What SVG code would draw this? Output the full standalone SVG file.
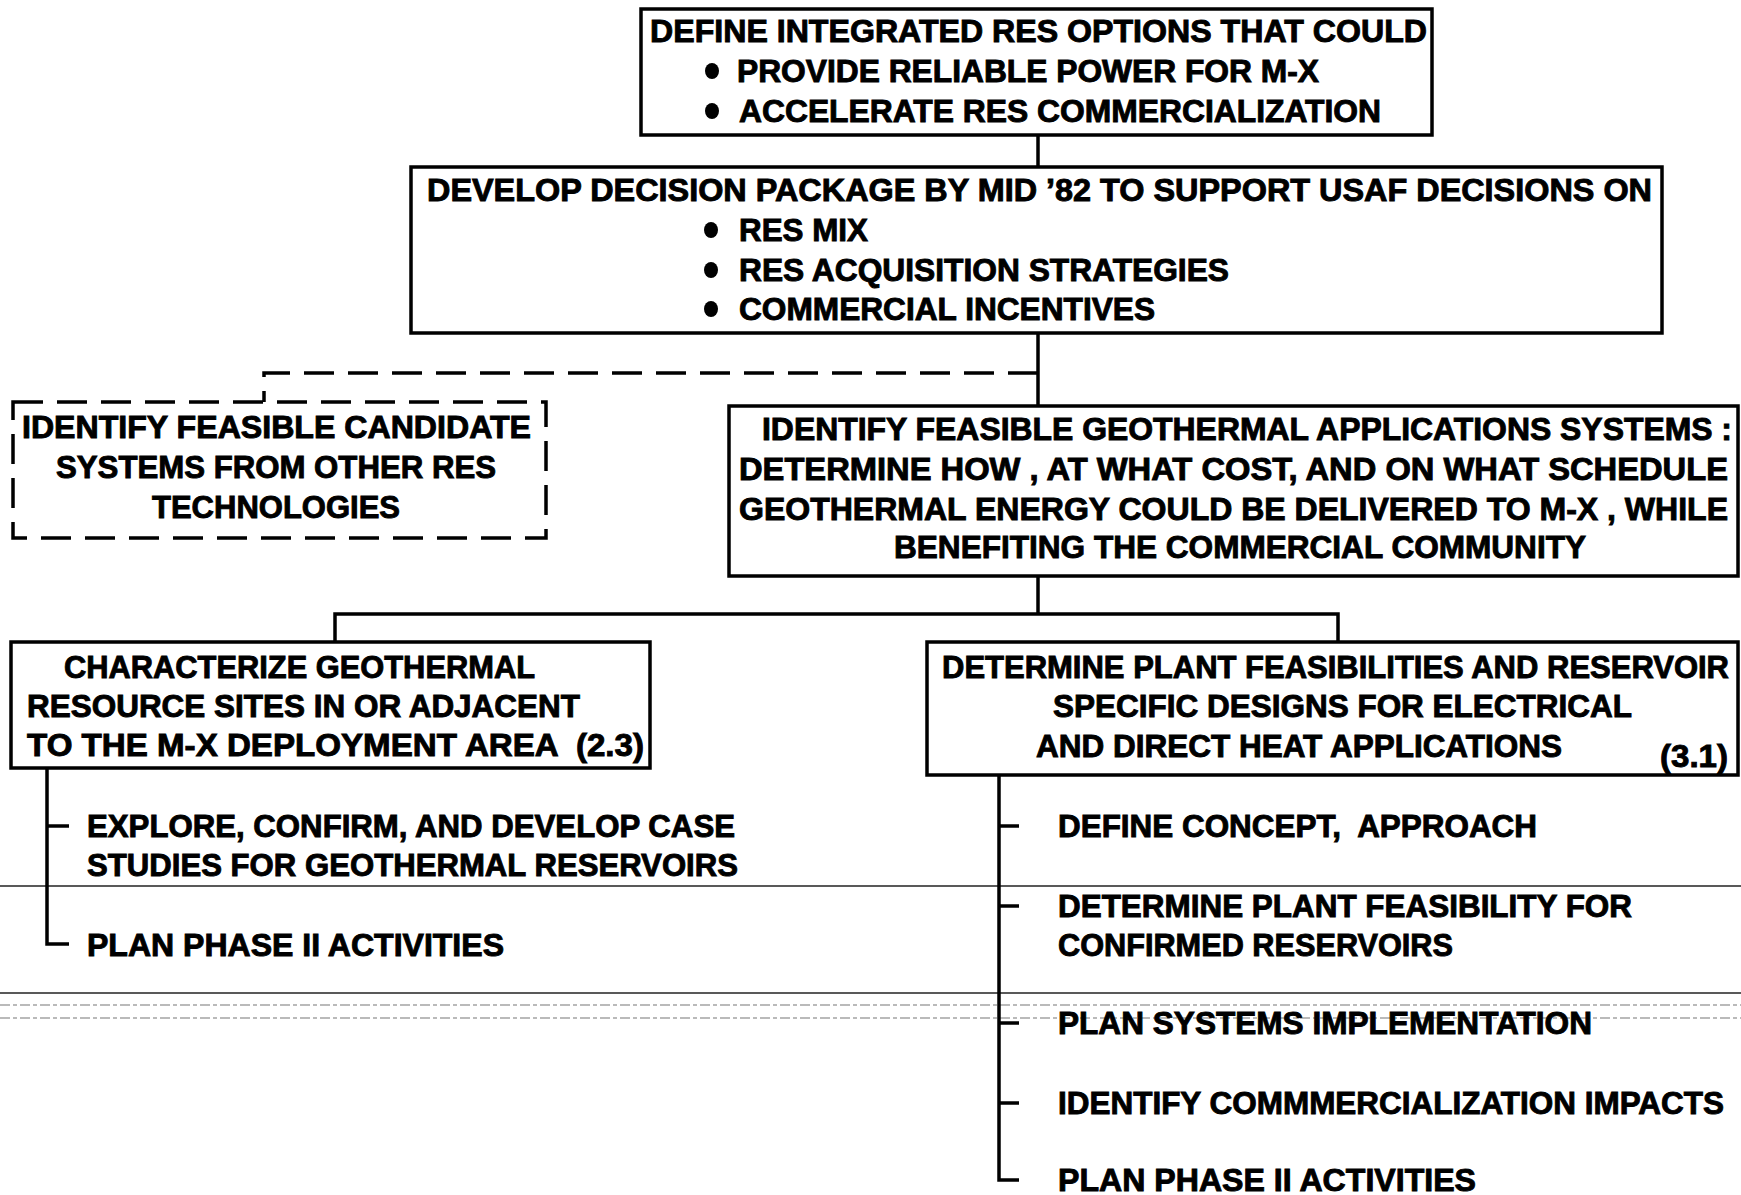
<svg xmlns="http://www.w3.org/2000/svg" width="1741" height="1195" viewBox="0 0 1741 1195">
  <style>
    .box { fill: #ffffff; stroke: #000000; stroke-width: 3.5; }
    .dbox { fill: none; stroke: #000000; stroke-width: 3.5; stroke-dasharray: 30 14; }
    .wire { fill: none; stroke: #000000; stroke-width: 3.5; }
    .dwire { fill: none; stroke: #000000; stroke-width: 3.5; stroke-dasharray: 30 14; }
    .scan { fill: none; stroke: #222222; stroke-width: 1.5; }
    .scanlight { fill: none; stroke: #777777; stroke-width: 1.2; stroke-dasharray: 10 3 4 3; }
    text { font-family: "Liberation Sans", Arial, Helvetica, sans-serif; font-weight: bold; font-size: 31px; fill: #000000; stroke: #000000; stroke-width: 0.9; }
    .dot { fill: #000000; }
  </style>

  <rect width="1741" height="1195" fill="#ffffff"/>

  <!-- faint horizontal page lines across the lower sheet -->
  <g id="page-lines">
    <line class="scan" x1="0" y1="886" x2="1741" y2="886"/>
    <line class="scan" x1="0" y1="993" x2="1741" y2="993" stroke-width="2"/>
    <line class="scanlight" x1="0" y1="1005" x2="1741" y2="1005"/>
    <line class="scanlight" x1="0" y1="1018" x2="1741" y2="1018"/>
  </g>

  <!-- connectors -->
  <g id="connectors">
    <line class="wire" x1="1038" y1="135" x2="1038" y2="167"/>
    <line class="wire" x1="1038" y1="333" x2="1038" y2="406"/>
    <polyline class="dwire" points="1038,373 264,373 264,402"/>
    <line class="wire" x1="1038" y1="576" x2="1038" y2="614"/>
    <polyline class="wire" points="335,642 335,614 1338,614 1338,642"/>
    <polyline class="wire" points="47,768 47,944 69,944"/>
    <line class="wire" x1="47" y1="826" x2="69" y2="826"/>
    <polyline class="wire" points="999,775 999,1180 1019,1180"/>
    <line class="wire" x1="999" y1="826" x2="1019" y2="826"/>
    <line class="wire" x1="999" y1="906" x2="1019" y2="906"/>
    <line class="wire" x1="999" y1="1023" x2="1019" y2="1023"/>
    <line class="wire" x1="999" y1="1103" x2="1019" y2="1103"/>
  </g>

  <g id="goal">
    <rect class="box" x="641" y="9" width="791" height="126"/>
    <text x="650" y="42" textLength="777" lengthAdjust="spacingAndGlyphs">DEFINE INTEGRATED RES OPTIONS THAT COULD</text>
    <ellipse class="dot" cx="712" cy="71" rx="7" ry="8"/>
    <text x="737" y="82" textLength="582" lengthAdjust="spacingAndGlyphs">PROVIDE RELIABLE POWER FOR M-X</text>
    <ellipse class="dot" cx="712" cy="111" rx="7" ry="8"/>
    <text x="739" y="122" textLength="642" lengthAdjust="spacingAndGlyphs">ACCELERATE RES COMMERCIALIZATION</text>
  </g>

  <g id="decision-package">
    <rect class="box" x="411" y="167" width="1251" height="166"/>
    <text x="427" y="201" textLength="1225" lengthAdjust="spacingAndGlyphs">DEVELOP DECISION PACKAGE BY MID ’82 TO SUPPORT USAF DECISIONS ON</text>
    <ellipse class="dot" cx="711" cy="230" rx="7" ry="8"/>
    <text x="739" y="241" textLength="129" lengthAdjust="spacingAndGlyphs">RES MIX</text>
    <ellipse class="dot" cx="711" cy="270" rx="7" ry="8"/>
    <text x="739" y="281" textLength="490" lengthAdjust="spacingAndGlyphs">RES ACQUISITION STRATEGIES</text>
    <ellipse class="dot" cx="711" cy="309" rx="7" ry="8"/>
    <text x="739" y="320" textLength="416" lengthAdjust="spacingAndGlyphs">COMMERCIAL INCENTIVES</text>
  </g>

  <g id="other-res">
    <rect class="dbox" x="13" y="402" width="533" height="136"/>
    <text x="22" y="438" textLength="509" lengthAdjust="spacingAndGlyphs">IDENTIFY FEASIBLE CANDIDATE</text>
    <text x="56" y="478" textLength="440" lengthAdjust="spacingAndGlyphs">SYSTEMS FROM OTHER RES</text>
    <text x="152" y="518" textLength="248" lengthAdjust="spacingAndGlyphs">TECHNOLOGIES</text>
  </g>

  <g id="geothermal-systems">
    <rect class="box" x="729" y="406" width="1009" height="170"/>
    <text x="762" y="440" textLength="970" lengthAdjust="spacingAndGlyphs">IDENTIFY FEASIBLE GEOTHERMAL APPLICATIONS SYSTEMS :</text>
    <text x="739" y="480" textLength="989" lengthAdjust="spacingAndGlyphs">DETERMINE HOW , AT WHAT COST, AND ON WHAT SCHEDULE</text>
    <text x="739" y="520" textLength="989" lengthAdjust="spacingAndGlyphs">GEOTHERMAL ENERGY COULD BE DELIVERED TO M-X , WHILE</text>
    <text x="894" y="558" textLength="692" lengthAdjust="spacingAndGlyphs">BENEFITING THE COMMERCIAL COMMUNITY</text>
  </g>

  <g id="resource-sites">
    <rect class="box" x="11" y="642" width="639" height="126"/>
    <text x="64" y="678" textLength="471" lengthAdjust="spacingAndGlyphs">CHARACTERIZE GEOTHERMAL</text>
    <text x="27" y="717" textLength="553" lengthAdjust="spacingAndGlyphs">RESOURCE SITES IN OR ADJACENT</text>
    <text x="27" y="756" textLength="617" lengthAdjust="spacingAndGlyphs" xml:space="preserve">TO THE M-X DEPLOYMENT AREA  (2.3)</text>
  </g>

  <g id="plant-designs">
    <rect class="box" x="927" y="642" width="811" height="133"/>
    <text x="942" y="678" textLength="787" lengthAdjust="spacingAndGlyphs">DETERMINE PLANT FEASIBILITIES AND RESERVOIR</text>
    <text x="1053" y="717" textLength="579" lengthAdjust="spacingAndGlyphs">SPECIFIC DESIGNS FOR ELECTRICAL</text>
    <text x="1036" y="757" textLength="526" lengthAdjust="spacingAndGlyphs">AND DIRECT HEAT APPLICATIONS</text>
    <text x="1660" y="767" textLength="68" lengthAdjust="spacingAndGlyphs">(3.1)</text>
  </g>

  <g id="site-tasks">
    <text x="87" y="837" textLength="648" lengthAdjust="spacingAndGlyphs">EXPLORE, CONFIRM, AND DEVELOP CASE</text>
    <text x="87" y="876" textLength="651" lengthAdjust="spacingAndGlyphs">STUDIES FOR GEOTHERMAL RESERVOIRS</text>
    <text x="87" y="956" textLength="417" lengthAdjust="spacingAndGlyphs">PLAN PHASE II ACTIVITIES</text>
  </g>

  <g id="plant-tasks">
    <text x="1058" y="837" textLength="479" lengthAdjust="spacingAndGlyphs" xml:space="preserve">DEFINE CONCEPT,  APPROACH</text>
    <text x="1058" y="917" textLength="574" lengthAdjust="spacingAndGlyphs">DETERMINE PLANT FEASIBILITY FOR</text>
    <text x="1058" y="956" textLength="395" lengthAdjust="spacingAndGlyphs">CONFIRMED RESERVOIRS</text>
    <text x="1058" y="1034" textLength="534" lengthAdjust="spacingAndGlyphs">PLAN SYSTEMS IMPLEMENTATION</text>
    <text x="1058" y="1114" textLength="666" lengthAdjust="spacingAndGlyphs">IDENTIFY COMMMERCIALIZATION IMPACTS</text>
    <text x="1058" y="1191" textLength="418" lengthAdjust="spacingAndGlyphs">PLAN PHASE II ACTIVITIES</text>
  </g>
</svg>
